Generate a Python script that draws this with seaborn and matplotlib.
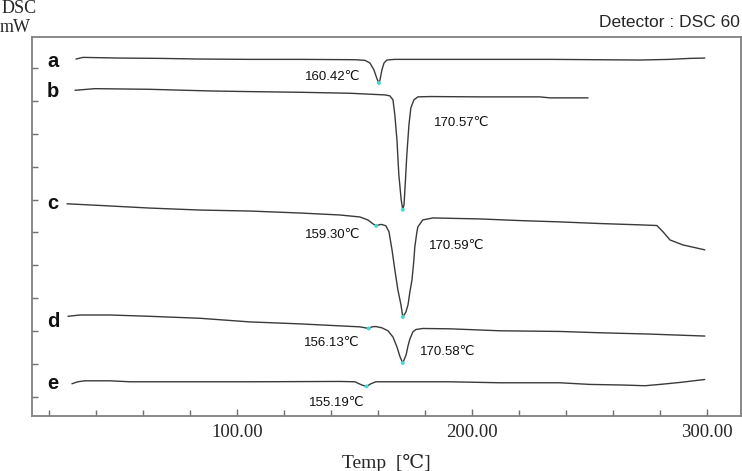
import numpy as np
import pandas as pd
import matplotlib
matplotlib.use("Agg")
import matplotlib.pyplot as plt
import seaborn as sns

# DSC curves (temperature in C, heat flow in arbitrary mW units, offset per sample)
temp_a = [31.5, 34.5, 50.2, 67.2, 84.3, 105.5, 126.8, 150.2, 154.5, 156.6, 158.3, 159.6, 160.42,
          160.9, 161.7, 162.6, 163.8, 167.2, 190.6, 233.2, 271.5, 284.3, 292.8, 299.1]
mw_a = [10.27, 10.32, 10.30, 10.29, 10.27, 10.26, 10.26, 10.25, 10.23, 10.15, 9.94, 9.67, 9.54,
        9.64, 9.94, 10.15, 10.24, 10.26, 10.26, 10.26, 10.24, 10.26, 10.29, 10.30]

temp_b = [31.1, 39.6, 63.0, 88.5, 105.5, 126.8, 148.1, 163.0, 165.1, 166.4, 167.2, 168.1, 168.9,
          169.9, 170.57, 171.1, 171.6, 172.3, 173.2, 174.0, 175.3, 177.0, 182.1, 203.4, 228.9,
          233.2, 249.4]
mw_b = [9.32, 9.37, 9.35, 9.30, 9.28, 9.26, 9.23, 9.18, 9.15, 9.03, 8.57, 7.81, 6.75,
        5.99, 5.69, 5.84, 6.44, 7.36, 8.27, 8.78, 9.03, 9.12, 9.13, 9.12, 9.12,
        9.09, 9.09]

temp_c = [27.7, 41.7, 63.0, 84.3, 105.5, 126.8, 143.8, 152.3, 155.7, 157.9, 159.30, 160.9, 161.7,
          163.4, 164.7, 166.0, 167.2, 168.5, 169.8, 170.59, 171.9, 172.8, 173.6, 174.5, 175.3,
          175.7, 176.6, 177.0, 179.1, 183.4, 203.4, 220.4, 237.4, 254.5, 271.5, 278.7, 281.3,
          284.3, 289.8, 299.1]
mw_c = [5.87, 5.82, 5.74, 5.68, 5.65, 5.59, 5.53, 5.47, 5.38, 5.26, 5.20, 5.24, 5.24,
        5.20, 5.02, 4.47, 3.86, 3.25, 2.80, 2.43, 2.58, 2.80, 3.19, 3.56, 4.16,
        4.56, 5.02, 5.17, 5.38, 5.44, 5.41, 5.36, 5.32, 5.27, 5.23, 5.21, 5.02,
        4.77, 4.62, 4.47]

temp_d = [28.1, 33.2, 46.0, 63.0, 84.3, 105.5, 126.8, 143.8, 152.3, 156.13, 157.4, 159.1, 161.7,
          164.3, 166.4, 168.1, 169.4, 170.58, 172.0, 172.8, 173.6, 174.9, 176.2, 179.1, 190.6,
          211.9, 237.4, 254.5, 275.7, 299.1]
mw_d = [2.45, 2.49, 2.49, 2.45, 2.39, 2.28, 2.22, 2.16, 2.13, 2.08, 2.13, 2.14, 2.10,
        2.01, 1.82, 1.52, 1.22, 1.03, 1.28, 1.55, 1.76, 1.98, 2.05, 2.08, 2.07,
        2.01, 1.99, 1.95, 1.91, 1.85]

temp_e = [29.8, 32.3, 35.3, 46.0, 54.5, 84.3, 105.5, 143.8, 150.2, 153.2, 155.19, 157.0, 159.1,
          169.4, 190.6, 211.9, 237.4, 250.2, 265.1, 273.6, 280.0, 288.5, 299.1]
mw_e = [0.40, 0.46, 0.49, 0.49, 0.46, 0.46, 0.46, 0.47, 0.46, 0.36, 0.32, 0.40, 0.46,
        0.46, 0.46, 0.43, 0.43, 0.38, 0.36, 0.34, 0.38, 0.44, 0.53]

curve_names = ["a", "b", "c", "d", "e"]
name_mw = [10.03, 9.12, 5.71, 2.13, 0.24]

# marked peaks and their annotations
peak_temp = [160.42, 170.57, 159.30, 170.59, 156.13, 170.58, 155.19]
peak_mw = [9.54, 5.69, 5.20, 2.43, 2.08, 1.03, 0.32]
peak_text = ["160.42℃", "170.57℃", "159.30℃", "170.59℃", "156.13℃", "170.58℃", "155.19℃"]
text_temp = [140.9, 195.7, 140.9, 193.6, 140.4, 189.8, 142.6]
text_mw = [9.73, 8.33, 4.92, 4.59, 1.64, 1.37, -0.17]

x_ticks = [100, 200, 300]
x_tick_labels = ["100.00", "200.00", "300.00"]

sns.set_style("white")
serif = ["Liberation Serif", "DejaVu Serif", "DejaVu Sans"]
sans = ["Liberation Sans", "DejaVu Sans"]

fig = plt.figure(figsize=(7.42, 4.71), dpi=100)
ax = fig.add_axes([32 / 742, 55 / 471, 709 / 742, 379 / 471])

curves = [(temp_a, mw_a), (temp_b, mw_b), (temp_c, mw_c), (temp_d, mw_d), (temp_e, mw_e)]
for t, m in curves:
    sns.lineplot(x=t, y=m, ax=ax, color="#3a3a3a", linewidth=1.0, sort=False, estimator=None)

sns.scatterplot(x=peak_temp, y=peak_mw, ax=ax, color="#45d6d6", s=8, edgecolor="none", zorder=5)

for t, m, s in zip(text_temp, text_mw, peak_text):
    ax.text(t, m, s, ha="center", va="center", fontsize=9.5, family=sans, color="#111111")

for n, m in zip(curve_names, name_mw):
    ax.text(21.7, m, n, ha="center", va="baseline", fontsize=14.5, fontweight="bold",
            family=sans, color="#111111")

ax.set_xlim(12.8, 314.5)
ax.set_ylim(-0.58, 10.94)
ax.set_xticks(np.arange(20, 301, 20), minor=True)
ax.set_xticks(x_ticks)
ax.set_xticklabels(x_tick_labels, fontsize=13.5, family=serif)
ax.set_yticks(np.arange(0, 11, 1))
ax.set_yticklabels([])
ax.tick_params(axis="both", which="both", direction="in", length=4, width=1.0,
               color="#707070", pad=6, bottom=True, left=True)
ax.tick_params(axis="x", which="major", length=5)
for sp in ax.spines.values():
    sp.set_color("#808080")
    sp.set_linewidth(1.3)

ax.set_xlabel("Temp  [℃]", fontsize=14, family=serif, labelpad=9)
ax.set_ylabel("")

fig.text(2 / 742, 1 - 13 / 471, "DSC", fontsize=13, family=serif, va="baseline", ha="left")
fig.text(0 / 742, 1 - 32 / 471, "mW", fontsize=13, family=serif, va="baseline", ha="left")
fig.text(740 / 742, 1 - 27 / 471, "Detector : DSC 60", fontsize=12.5, family=sans,
         va="baseline", ha="right")

fig.savefig("out.png", dpi=100)
